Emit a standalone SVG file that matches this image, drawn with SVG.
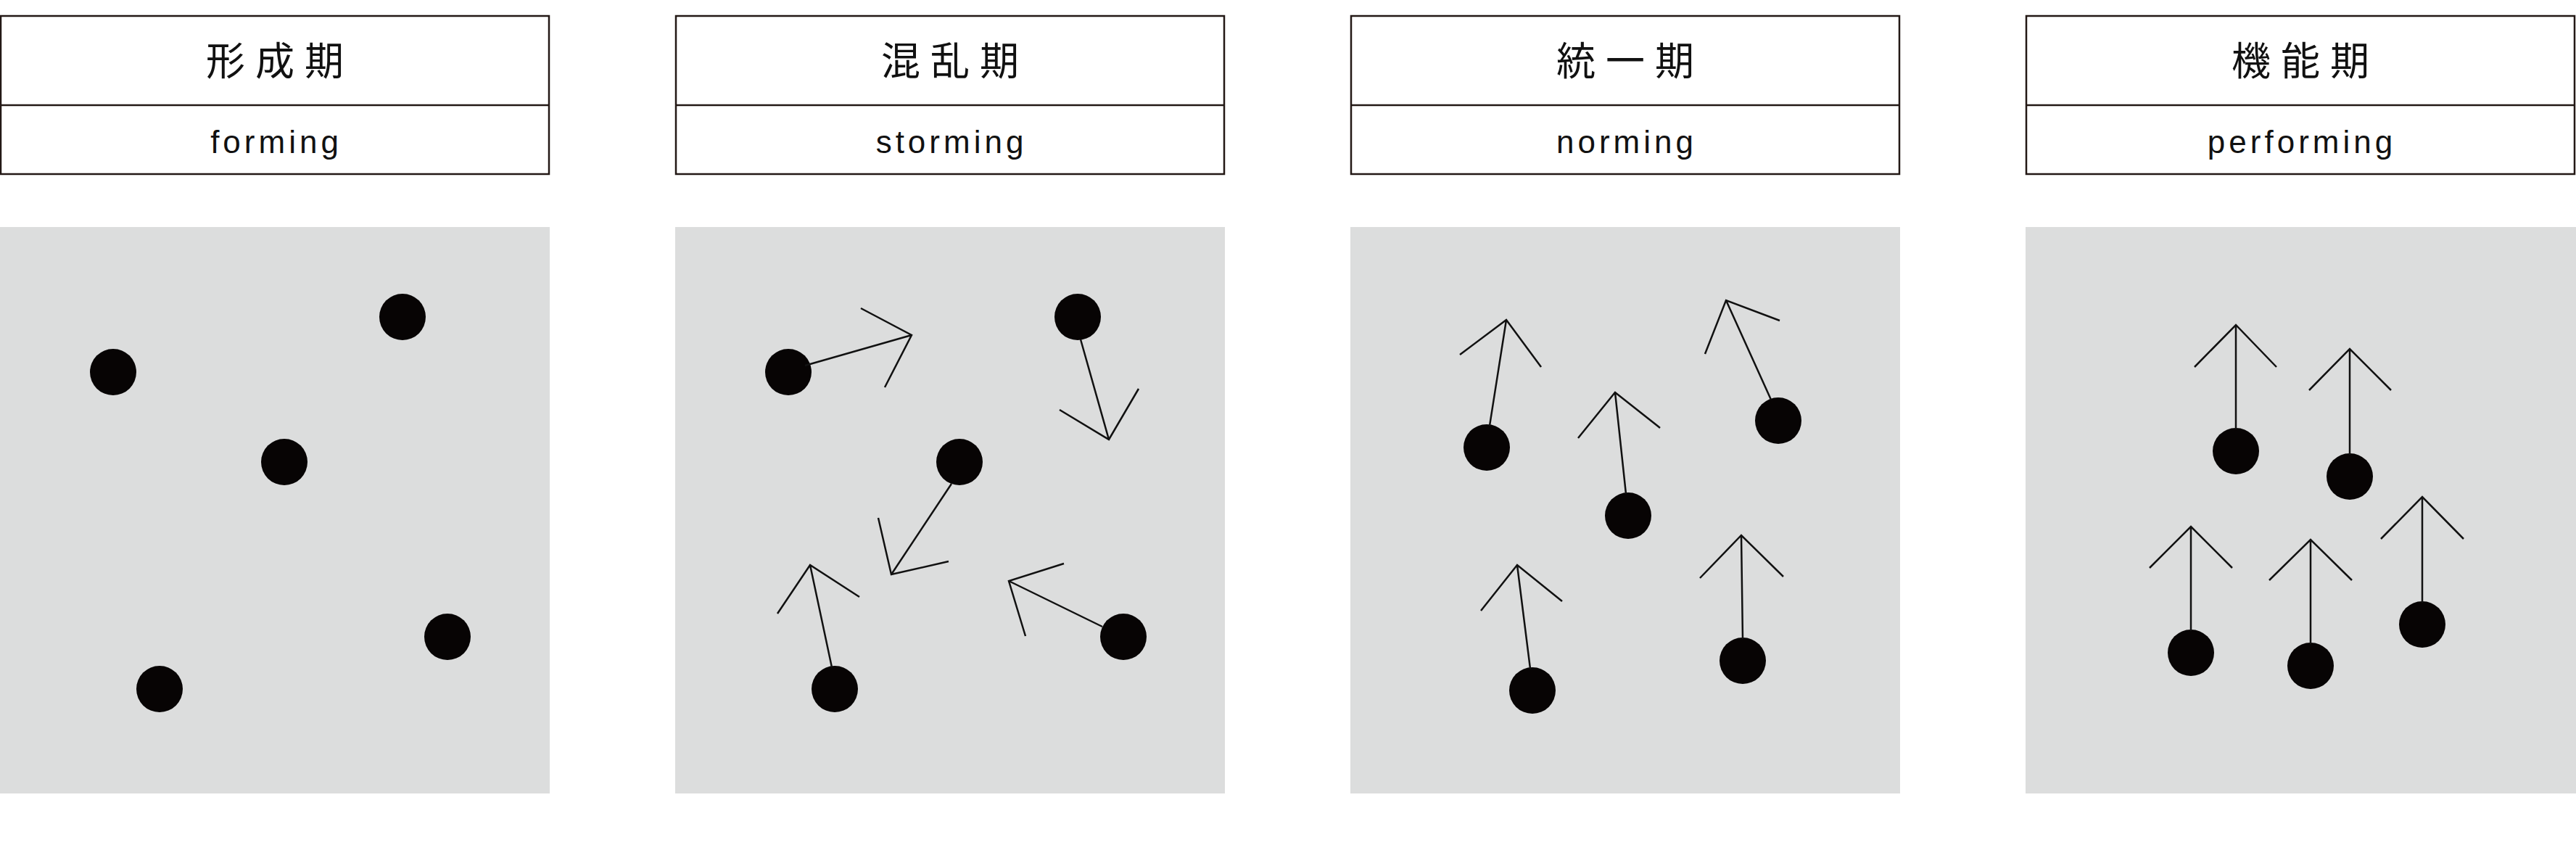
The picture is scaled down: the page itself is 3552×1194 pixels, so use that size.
<svg xmlns="http://www.w3.org/2000/svg" width="3552" height="1194" viewBox="0 0 3552 1194">
<style>
.hd{fill:#fff;stroke:#231815;stroke-width:2.5}
.bg{fill:#dcdddd}
.jp{font-family:"Noto Sans CJK JP","Noto Sans CJK SC",sans-serif;font-size:54px;letter-spacing:14px;text-anchor:middle;fill:#111}
.en{font-family:"Liberation Sans",sans-serif;font-size:44px;letter-spacing:5px;text-anchor:middle;fill:#111}
.d{fill:#070404}
.ar{fill:none;stroke:#111;stroke-width:2.5}
</style>
<rect width="3552" height="1194" fill="#fff"/>
<g id="forming">
<rect class="hd" x="1" y="22" width="756" height="218"/><line class="hd" x1="1" y1="145" x2="757" y2="145"/>
<text class="jp" x="386" y="104">形成期</text><text class="en" x="381" y="211">forming</text>
<rect class="bg" x="0" y="313" width="758" height="781"/>
<circle class="d" cx="156" cy="513" r="32"/><circle class="d" cx="555" cy="437" r="32"/><circle class="d" cx="392" cy="637" r="32"/><circle class="d" cx="617" cy="878" r="32"/><circle class="d" cx="220" cy="950" r="32"/>
</g>
<g id="storming">
<rect class="hd" x="932" y="22" width="756" height="218"/><line class="hd" x1="932" y1="145" x2="1688" y2="145"/>
<text class="jp" x="1317" y="104">混乱期</text><text class="en" x="1312" y="211">storming</text>
<rect class="bg" x="931" y="313" width="758" height="781"/>
<circle class="d" cx="1087" cy="513" r="32"/><circle class="d" cx="1486" cy="437" r="32"/><circle class="d" cx="1323" cy="637" r="32"/><circle class="d" cx="1549" cy="878" r="32"/><circle class="d" cx="1151" cy="950" r="32"/>
</g>
<g id="norming">
<rect class="hd" x="1863" y="22" width="756" height="218"/><line class="hd" x1="1863" y1="145" x2="2619" y2="145"/>
<text class="jp" x="2248" y="104">統一期</text><text class="en" x="2243" y="211">norming</text>
<rect class="bg" x="1862" y="313" width="758" height="781"/>
<circle class="d" cx="2050" cy="617" r="32"/><circle class="d" cx="2245" cy="711" r="32"/><circle class="d" cx="2452" cy="580" r="32"/><circle class="d" cx="2113" cy="952" r="32"/><circle class="d" cx="2403" cy="911" r="32"/>
</g>
<g id="performing">
<rect class="hd" x="2794" y="22" width="756" height="218"/><line class="hd" x1="2794" y1="145" x2="3550" y2="145"/>
<text class="jp" x="3179" y="104">機能期</text><text class="en" x="3174" y="211">performing</text>
<rect class="bg" x="2793" y="313" width="759" height="781"/>
<circle class="d" cx="3083" cy="622" r="32"/><circle class="d" cx="3240" cy="657" r="32"/><circle class="d" cx="3021" cy="900" r="32"/><circle class="d" cx="3186" cy="918" r="32"/><circle class="d" cx="3340" cy="861" r="32"/>
</g>
<g id="connectors" class="ar">
<path d="M1110 504L1257 462M1187 425L1257 462L1220 534"/>
<path d="M1490 468L1529 606M1461 565L1529 606L1570 536"/>
<path d="M1312 667L1229 792M1211 714L1229 792L1308 774"/>
<path d="M1147 920L1117 779M1072 846L1117 779L1185 823"/>
<path d="M1520 864L1391 801M1467 777L1391 801L1414 877"/>
<path d="M2054 587L2077 441M2013 489L2077 441L2125 506"/>
<path d="M2242 681L2227 541M2176 604L2227 541L2289 590"/>
<path d="M2442 551L2380 414M2351 488L2380 414L2454 442"/>
<path d="M2110 922L2092 779M2042 842L2092 779L2154 829"/>
<path d="M2403 881L2401 738M2344 797L2401 738L2459 795"/>
<path d="M3083 592L3083 448M3026 506L3083 448L3139 506"/>
<path d="M3240 627L3240 481M3184 538L3240 481L3297 538"/>
<path d="M3021 870L3021 726M2964 783L3021 726L3078 783"/>
<path d="M3186 888L3186 744M3129 800L3186 744L3243 800"/>
<path d="M3340 831L3340 685M3283 743L3340 685L3397 743"/>
</g>
</svg>
